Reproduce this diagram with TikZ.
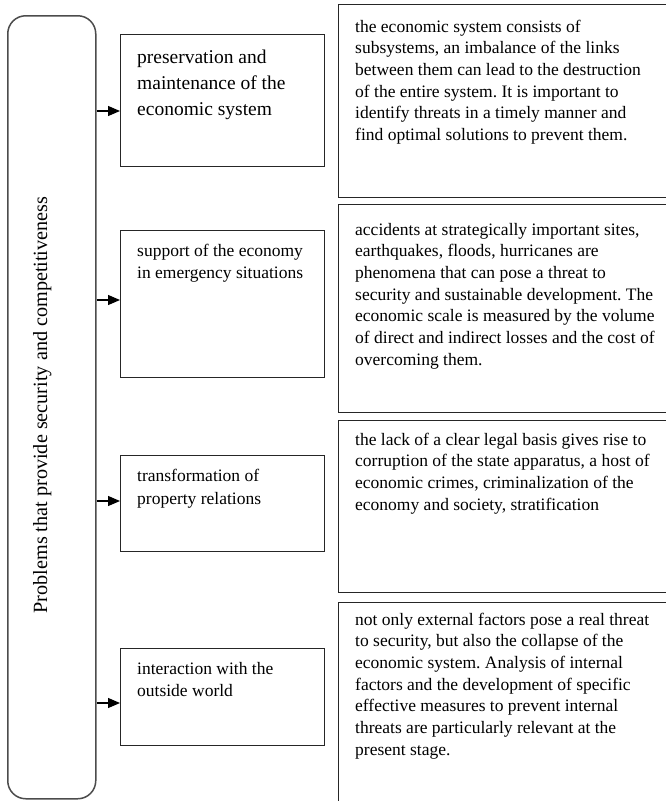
\documentclass[tikz,border=0pt]{standalone}
\usepackage{fontspec}
\setmainfont{Liberation Serif}
\usetikzlibrary{arrows.meta}
\frenchspacing
\begin{document}
\begin{tikzpicture}[x=1pt,y=-1pt,
  frame/.style={draw=black!85, line width=1.2pt, inner sep=0pt, anchor=north west},
  side/.style={draw=black!70, line width=1.5pt, rounded corners=18pt, inner sep=0pt, anchor=north west},
  link/.style={draw=black, line width=1.2pt, -{Triangle[length=12pt,width=10pt]}},
  lbig/.style={anchor=base west, inner sep=0pt, font=\fontsize{19.5}{26}\selectfont},
  lsmall/.style={anchor=base west, inner sep=0pt, font=\fontsize{17.5}{22.5}\selectfont},
  rtext/.style={anchor=base west, inner sep=0pt, font=\fontsize{17.5}{21.7}\selectfont}]
\clip (0,0) rectangle (666,801);
\fill[white] (0,0) rectangle (666,801);

% vertical heading box
\node[side, minimum width=88pt, minimum height=783pt] (main) at (7,15) {};
\node[rotate=90, anchor=base, inner sep=0pt, font=\fontsize{20.2}{24}\selectfont] (title) at (47,405)
  {Problems that provide security and competitiveness};

% problem boxes
\node[frame, minimum width=204pt, minimum height=132pt] (b1) at (120,34) {};
\node[frame, minimum width=204pt, minimum height=147pt] (b2) at (120,230) {};
\node[frame, minimum width=204pt, minimum height=96pt] (b3) at (120,455) {};
\node[frame, minimum width=204pt, minimum height=97pt] (b4) at (120,648) {};

% description boxes (open to the right)
\node[frame, minimum width=352pt, minimum height=193pt] (r1) at (338,4) {};
\node[frame, minimum width=352pt, minimum height=208pt] (r2) at (338,204) {};
\node[frame, minimum width=352pt, minimum height=172pt] (r3) at (338,420) {};
\node[frame, minimum width=352pt, minimum height=230pt] (r4) at (338,602) {};

% arrow heights
\coordinate (a1) at (0,111);
\coordinate (a2) at (0,300);
\coordinate (a3) at (0,501);
\coordinate (a4) at (0,703);
\draw[link] (main.east |- a1) -- (b1.west |- a1);
\draw[link] (main.east |- a2) -- (b2.west |- a2);
\draw[link] (main.east |- a3) -- (b3.west |- a3);
\draw[link] (main.east |- a4) -- (b4.west |- a4);

% problem texts
\node[lbig] (t1) at (137,63) {\parbox[t]{185pt}{\raggedright preservation and\\ maintenance of the\\ economic system}};
\node[lsmall] (t2) at (137,256.7) {\parbox[t]{185pt}{\raggedright\baselineskip=21.7pt support of the economy\\ in emergency situations}};
\node[lsmall] (t3) at (137,481.7) {\parbox[t]{185pt}{\raggedright transformation of\\ property relations}};
\node[lsmall] (t4) at (137,674) {\parbox[t]{185pt}{\raggedright interaction with the\\ outside world}};

% description texts
\node[rtext] (d1) at (355,32) {\parbox[t]{320pt}{\raggedright
the economic system consists of\\
subsystems, an imbalance of the links\\
between them can lead to the destruction\\
of the entire system. It is important to\\
identify threats in a timely manner and\\
find optimal solutions to prevent them.}};
\node[rtext] (d2) at (355,235) {\parbox[t]{320pt}{\raggedright
accidents at strategically important sites,\\
earthquakes, floods, hurricanes are\\
phenomena that can pose a threat to\\
security and sustainable development. The\\
economic scale is measured by the volume\\
of direct and indirect losses and the cost of\\
overcoming them.}};
\node[rtext] (d3) at (355,445) {\parbox[t]{320pt}{\raggedright
the lack of a clear legal basis gives rise to\\
corruption of the state apparatus, a host of\\
economic crimes, criminalization of the\\
economy and society, stratification}};
\node[rtext] (d4) at (355,625) {\parbox[t]{320pt}{\raggedright
not only external factors pose a real threat\\
to security, but also the collapse of the\\
economic system. Analysis of internal\\
factors and the development of specific\\
effective measures to prevent internal\\
threats are particularly relevant at the\\
present stage.}};
\end{tikzpicture}
\end{document}
